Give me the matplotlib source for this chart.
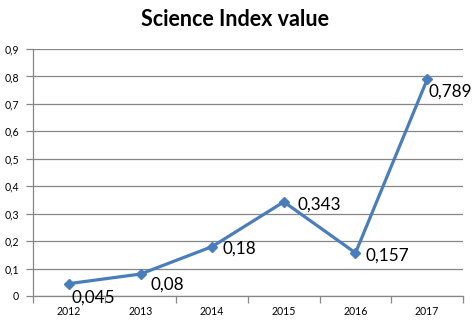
import matplotlib
matplotlib.use('Agg')
from matplotlib import pyplot as plt
import numpy as np

plt.rcParams['font.family'] = ['Lato', 'DejaVu Sans']

# данные индекса по годам
years = ['2012', '2013', '2014', '2015', '2016', '2017']
values = [0.045, 0.08, 0.18, 0.343, 0.157, 0.789]
labels = ['0,045', '0,08', '0,18', '0,343', '0,157', '0,789']
# сдвиг подписей (в пикселях) относительно точки
offsets = [(3, -14), (10, -11), (10, -2), (14, -3), (10, -3), (1, -12)]

line_color = '#4a7ebb'
grid_color = '#868686'

fig = plt.figure(figsize=(4.76, 3.26), dpi=100)
ax = fig.add_axes([33/476, 1 - 296/326, 430/476, 247/326])

x = np.arange(len(years))
ax.plot(x, values, color=line_color, lw=2.3, marker='D', ms=5.5,
        mfc=line_color, mec=line_color, zorder=3)

for xi, v, lab, off in zip(x, values, labels, offsets):
    ax.annotate(lab, (xi, v), xytext=off, textcoords='offset pixels',
                ha='left', va='center', fontsize=12.3, color='black')

ax.set_xlim(-0.5, len(years) - 0.5)
ax.set_ylim(0, 0.9)
yt = np.arange(0, 0.91, 0.1)
ax.set_yticks(yt)
ax.set_yticklabels(['0'] + [('%.1f' % t).replace('.', ',') for t in yt[1:]])
ax.set_xticks(x)
ax.set_xticklabels(years)
ax.set_xticks(np.arange(-0.5, len(years)), minor=True)

ax.grid(axis='y', color=grid_color, lw=0.9)
ax.set_axisbelow(True)
for s in ['top', 'right']:
    ax.spines[s].set_visible(False)
for s in ['left', 'bottom']:
    ax.spines[s].set_color(grid_color)
    ax.spines[s].set_linewidth(0.9)

ax.tick_params(axis='x', which='major', length=0, labelsize=7.6, pad=7)
ax.tick_params(axis='x', which='minor', length=5, color=grid_color, width=0.9)
ax.tick_params(axis='y', length=5, color=grid_color, width=0.9, labelsize=7.6, pad=5)

fig.text(0.493, 1 - 19/326, 'Science Index value', ha='center', va='center',
         fontsize=15.5, fontweight='bold')

fig.savefig('out.png', dpi=100)
